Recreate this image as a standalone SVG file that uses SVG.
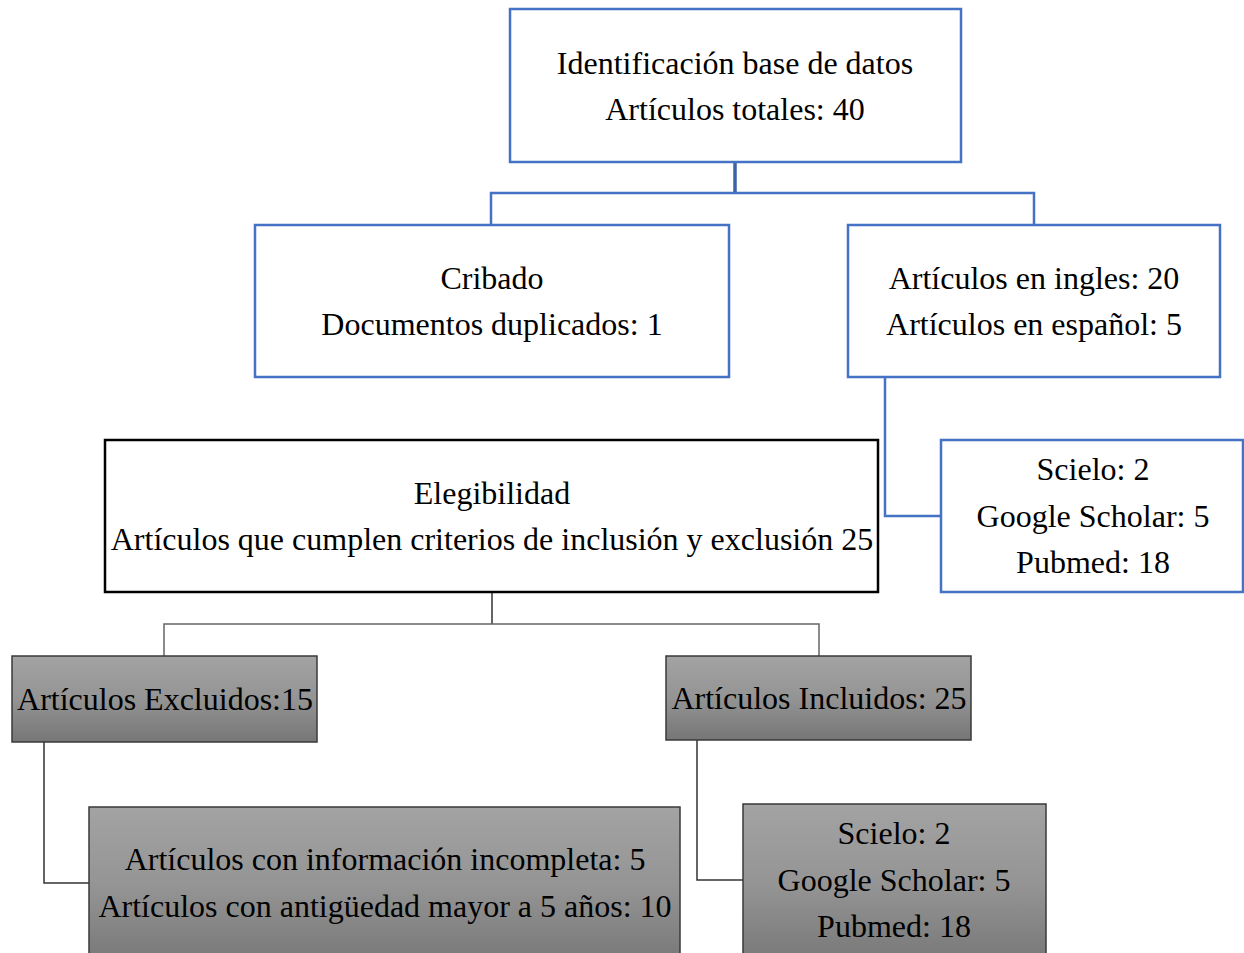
<svg xmlns="http://www.w3.org/2000/svg" width="1244" height="953" viewBox="0 0 1244 953">
<defs>
<linearGradient id="g" x1="0" y1="0" x2="0" y2="1">
<stop offset="0" stop-color="#a3a3a3"/>
<stop offset="0.5" stop-color="#949494"/>
<stop offset="1" stop-color="#767676"/>
</linearGradient>
</defs>
<style>
text{font-family:"Liberation Serif","Times New Roman",serif;font-size:32px;fill:#000;text-anchor:middle}
.b{fill:#fff;stroke:#4472c4;stroke-width:2.5}
.k{fill:#fff;stroke:#000;stroke-width:2.5}
.g{fill:url(#g);stroke:#3a3a3a;stroke-width:1.5}
.cb{fill:none;stroke:#4472c4;stroke-width:2.5}
.cg{fill:none;stroke:#666;stroke-width:1.5}
.ck{fill:none;stroke:#333;stroke-width:1.5}
</style>
<rect width="1244" height="953" fill="#fff"/>
<g id="connectors">
<path class="cb" d="M735 162V193"  style="stroke:#3a62a8;stroke-width:3.5"/>
<path class="cb" d="M491 225V193H1034V225"/>
<path class="cb" d="M885 377V516H941"/>
<path class="ck" d="M492 592V624"/>
<path class="cg" d="M164 656V624H819V656"/>
<path class="ck" d="M44 742V883H89"/>
<path class="ck" d="M697 740V880H743"/>
</g>
<g id="n1"><rect class="b" x="510" y="9" width="451" height="153"/>
<text x="735" y="74">Identificación base de datos</text><text x="735" y="120">Artículos totales: 40</text></g>
<g id="n2"><rect class="b" x="255" y="225" width="474" height="152"/>
<text x="492" y="289">Cribado</text><text x="492" y="335">Documentos duplicados: 1</text></g>
<g id="n3"><rect class="b" x="848" y="225" width="372" height="152"/>
<text x="1034" y="289">Artículos en ingles: 20</text><text x="1034" y="335">Artículos en español: 5</text></g>
<g id="n4"><rect class="b" x="941" y="440" width="302" height="152"/>
<text x="1093" y="480">Scielo: 2</text><text x="1093" y="527">Google Scholar: 5</text><text x="1093" y="573">Pubmed: 18</text></g>
<g id="n5"><rect class="k" x="105" y="440" width="773" height="152"/>
<text x="492" y="504">Elegibilidad</text><text x="492" y="550">Artículos que cumplen criterios de inclusión y exclusión 25</text></g>
<g id="n6"><rect class="g" x="12" y="656" width="305" height="86"/>
<text x="165" y="710">Artículos Excluidos:15</text></g>
<g id="n7"><rect class="g" x="666" y="656" width="305" height="84"/>
<text x="819" y="709">Artículos Incluidos: 25</text></g>
<g id="n8"><rect class="g" x="89" y="807" width="591" height="160"/>
<text x="385" y="870">Artículos con información incompleta: 5</text><text x="385" y="917">Artículos con antigüedad mayor a 5 años: 10</text></g>
<g id="n9"><rect class="g" x="743" y="804" width="303" height="163"/>
<text x="894" y="844">Scielo: 2</text><text x="894" y="891">Google Scholar: 5</text><text x="894" y="937">Pubmed: 18</text></g>
</svg>
